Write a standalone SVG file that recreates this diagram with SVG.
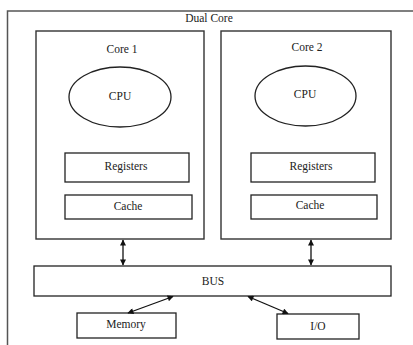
<svg xmlns="http://www.w3.org/2000/svg" width="413" height="345" viewBox="0 0 413 345">
<style>
  .box { fill: #fff; stroke: #222; stroke-width: 1.3; }
  .frame { fill: none; stroke: #555; stroke-width: 1.5; }
  .core { fill: none; stroke: #333; stroke-width: 1.4; }
  text { font-family: "Liberation Serif", "Times New Roman", serif; font-size: 11.5px; fill: #222; text-anchor: middle; }
  .conn { stroke: #111; stroke-width: 1.3; fill: none; marker-start: url(#ah); marker-end: url(#ah); }
</style>
<defs>
  <marker id="ah" viewBox="0 0 10 10" refX="9" refY="5" markerWidth="7" markerHeight="6" markerUnits="userSpaceOnUse" orient="auto-start-reverse">
    <path d="M0,0 L10,5 L0,10 z" fill="#111"/>
  </marker>
</defs>
<rect width="413" height="345" fill="#fff"/>
<g id="dual-core">
  <path class="frame" d="M7.5,345 V11 H413"/>
  <text x="209" y="22">Dual Core</text>
</g>
<g id="core1">
  <rect class="core" x="36" y="31" width="168" height="208"/>
  <text x="122" y="53">Core 1</text>
</g>
<g id="core2">
  <rect class="core" x="221" y="31" width="170" height="208"/>
  <text x="307" y="51">Core 2</text>
</g>
<g id="cpu1">
  <ellipse class="box" cx="120" cy="97" rx="51" ry="30"/>
  <text x="120" y="100">CPU</text>
</g>
<g id="cpu2">
  <ellipse class="box" cx="305.5" cy="96" rx="50.5" ry="30"/>
  <text x="305" y="98">CPU</text>
</g>
<g id="registers1">
  <rect class="box" x="65" y="153" width="124" height="29"/>
  <text x="126" y="170">Registers</text>
</g>
<g id="cache1">
  <rect class="box" x="65" y="195" width="127" height="24"/>
  <text x="128" y="210">Cache</text>
</g>
<g id="registers2">
  <rect class="box" x="251" y="153" width="124" height="29"/>
  <text x="311" y="170">Registers</text>
</g>
<g id="cache2">
  <rect class="box" x="251" y="195" width="126" height="24"/>
  <text x="310" y="209">Cache</text>
</g>
<g id="bus">
  <rect class="box" x="34" y="266" width="357" height="30"/>
  <text x="213" y="285">BUS</text>
</g>
<g id="memory">
  <rect class="box" x="77" y="313" width="99" height="25"/>
  <text x="126" y="328">Memory</text>
</g>
<g id="io">
  <rect class="box" x="277" y="314" width="82" height="25"/>
  <text x="318" y="330">I/O</text>
</g>
<g id="connectors">
  <line class="conn" x1="123" y1="240" x2="123" y2="265"/>
  <line class="conn" x1="311" y1="240" x2="311" y2="265"/>
  <line class="conn" x1="173" y1="296.5" x2="128" y2="313"/>
  <line class="conn" x1="248" y1="296.5" x2="288" y2="313.5"/>
</g>
</svg>
